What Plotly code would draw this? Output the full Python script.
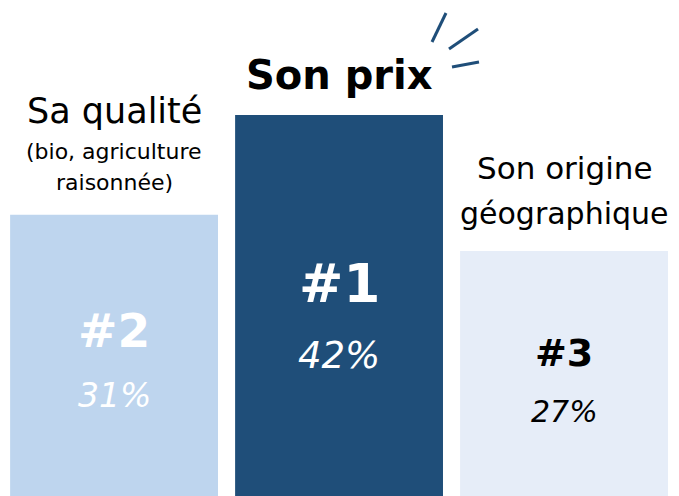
import plotly.graph_objects as go

# rank / share of each criterion
criteres = ["Sa qualité", "Son prix", "Son origine géographique"]
rangs = ["#2", "#1", "#3"]
parts = [31, 42, 27]
couleurs = ["#bed5ee", "#1f4e79", "#e6edf8"]
couleurs_txt = ["white", "white", "black"]

W = 679
H = 496  # figure height in px, used to place text in paper coords

def py(pix):
	return 1 - pix / H

xs = list(range(len(parts)))

fig = go.Figure(
	data = [
		go.Bar(
			x = xs,
			y = parts,
			width = 0.924,
			marker = dict(color = couleurs, line = dict(width = 0)),
			hoverinfo = "skip",
		)
	]
)

# titles above the bars
titres = [
	(0, 111, "Sa qualité", 35),
	(0, 152, "(bio, agriculture", 22),
	(0, 183, "raisonnée)", 22),
	(1, 75, "<b>Son prix</b>", 40),
	(2, 168, "Son origine", 31),
	(2, 213, "géographique", 30),
]
for x, ypix, txt, size in titres:
	fig.add_annotation(x = x, y = py(ypix), yref = "paper", text = txt, showarrow = False,
		font = dict(size = size, color = "black"), xanchor = "center", yanchor = "middle")

# rank and percentage inside the bars
rang_pos = [330, 283, 377]
rang_size = [47, 53, 38]
pct_pos = [417, 379, 431]
pct_size = [33, 37, 30]
for i in xs:
	fig.add_annotation(x = i, y = py(rang_pos[i]), yref = "paper", text = "<b>" + rangs[i] + "</b>",
		showarrow = False, font = dict(size = rang_size[i], color = couleurs_txt[i]))
	fig.add_annotation(x = i, y = py(pct_pos[i]), yref = "paper", text = "<i>" + str(parts[i]) + "%</i>",
		showarrow = False, font = dict(size = pct_size[i], color = couleurs_txt[i]))

# little "spark" strokes next to Son prix
for x0, y0, x1, y1 in [(432, 42, 446, 13), (449, 49, 478, 29), (452, 67, 479, 62)]:
	fig.add_shape(type = "line", xref = "paper", yref = "paper",
		x0 = x0 / W, y0 = py(y0), x1 = x1 / W, y1 = py(y1),
		line = dict(color = "#1f4e79", width = 3))

fig.update_layout(
	width = W,
	height = H,
	margin = dict(l = 0, r = 0, t = 0, b = 0),
	paper_bgcolor = "white",
	plot_bgcolor = "white",
	font = dict(family = "DejaVu Sans, sans-serif"),
	showlegend = False,
	xaxis = dict(range = [-0.507, 2.511], visible = False, fixedrange = True),
	yaxis = dict(range = [0, 54.68], visible = False, fixedrange = True),
)

fig.write_html("out.html", config = {"displayModeBar": False},
	post_script = "document.body.style.margin='0';document.body.style.overflow='hidden';")
